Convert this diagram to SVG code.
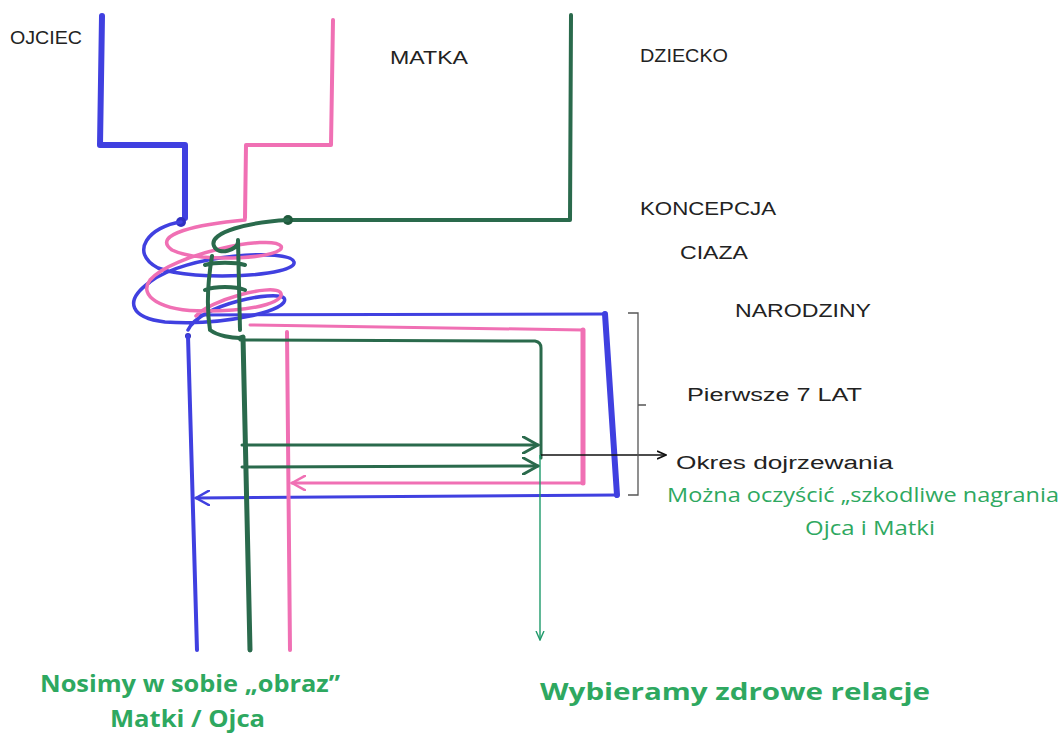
<svg xmlns="http://www.w3.org/2000/svg" width="1061" height="738" viewBox="0 0 1061 738">
<defs>
<style>
.lbl{font-family:"Liberation Sans",Arial,sans-serif;font-size:18px;fill:#222}
.g{font-family:"Open Sans","Liberation Sans",sans-serif;font-size:20px;fill:#2ea860}
.big{font-family:"Open Sans","Liberation Sans",sans-serif;font-weight:bold;font-size:24px;fill:#2ea860}
.blue{stroke:#4040e0;fill:none;stroke-linecap:round;stroke-linejoin:round}
.pink{stroke:#f070b4;fill:none;stroke-linecap:round;stroke-linejoin:round}
.dg{stroke:#2a6a4c;fill:none;stroke-linecap:round;stroke-linejoin:round}
</style>
<marker id="ahB" viewBox="0 0 10 10" refX="9" refY="5" markerWidth="16" markerHeight="16" markerUnits="userSpaceOnUse" orient="auto"><path d="M0,0 L9,5 L0,10" fill="none" stroke="#4040e0" stroke-width="1.6"/></marker>
<marker id="ahP" viewBox="0 0 10 10" refX="9" refY="5" markerWidth="16" markerHeight="16" markerUnits="userSpaceOnUse" orient="auto"><path d="M0,0 L9,5 L0,10" fill="none" stroke="#f070b4" stroke-width="1.6"/></marker>
<marker id="ahG" viewBox="0 0 10 10" refX="9" refY="5" markerWidth="18" markerHeight="18" markerUnits="userSpaceOnUse" orient="auto"><path d="M0,0 L9,5 L0,10" fill="none" stroke="#2a6a4c" stroke-width="1.6"/></marker>
<marker id="ahK" viewBox="0 0 10 10" refX="9" refY="5" markerWidth="10" markerHeight="10" markerUnits="userSpaceOnUse" orient="auto"><path d="M0,1 L9,5 L0,9" fill="none" stroke="#111" stroke-width="1.6"/></marker>
<marker id="ahL" viewBox="0 0 10 10" refX="9" refY="5" markerWidth="10" markerHeight="10" markerUnits="userSpaceOnUse" orient="auto"><path d="M0,1 L9,5 L0,9" fill="none" stroke="#1e9a6a" stroke-width="1.4"/></marker>
</defs>
<rect width="1061" height="738" fill="#fff"/>

<g id="ojciec">
<path class="blue" stroke-width="6" d="M102,16 L100,145 L185,145 L185,218"/>
<circle cx="181" cy="222" r="5" fill="#3030c0"/>
<path class="blue" stroke-width="3.5" d="M181,222 C150,226 128,252 158,268 C195,282 298,276 294,262 C290,248 185,254 150,282 C122,302 132,318 165,322 C225,326 292,310 284,298 C276,290 200,304 188,330"/>
<circle cx="188" cy="336" r="3" fill="#3030c0"/>
<path class="blue" stroke-width="4" d="M188,336 L197,650"/>
<path class="blue" stroke-width="3" d="M200,315 L605,314"/>
<path class="blue" stroke-width="6" d="M605,314 L617,495"/>
<path class="blue" stroke-width="3" d="M617,495 L196,498" marker-end="url(#ahB)"/>
</g>

<g id="matka">
<path class="pink" stroke-width="4" d="M333,20 L331,145 L246,145 L245,218"/>
<path class="pink" stroke-width="3.5" d="M245,220 C200,224 150,234 172,250 C200,264 288,258 281,246 C272,234 172,254 150,280 C138,296 160,311 205,311 C262,311 287,300 280,292 C270,284 210,300 196,316"/>
<path class="pink" stroke-width="3" d="M250,325 L583,330"/>
<path class="pink" stroke-width="5" d="M583,330 L583,483"/>
<path class="pink" stroke-width="3" d="M583,483 L292,483" marker-end="url(#ahP)"/>
<path class="pink" stroke-width="4" d="M287,332 L290,650"/>
</g>

<g id="dziecko">
<path class="dg" stroke-width="4" d="M571,15 L570,220 L292,220"/>
<circle cx="288" cy="220" r="5" fill="#1f5a3c"/>
<path class="dg" stroke-width="4" d="M288,220 C250,222 208,232 214,246 C218,256 238,250 238,242 M238,240 L240,330 M212,256 C208,280 206,305 210,330 M205,265 C215,262 235,262 245,265 M205,290 C215,286 235,286 245,290 M210,330 C218,336 232,338 240,338"/>
<path class="dg" stroke-width="5" d="M240,338 L243,337 L250,650"/>
<path class="dg" stroke-width="3" d="M240,340 L535,341 Q541,342 541,348 L541,458"/>
<path class="dg" stroke-width="3" d="M242,445 L538,445" marker-end="url(#ahG)"/>
<path class="dg" stroke-width="3" d="M242,467 L538,466" marker-end="url(#ahG)"/>
</g>

<g id="connectors">
<path stroke="#111" stroke-width="1.6" fill="none" d="M541,455 L666,455" marker-end="url(#ahK)"/>
<path stroke="#1e9a6a" stroke-width="1.4" fill="none" d="M540,455 L540,640" marker-end="url(#ahL)"/>
<path stroke="#555" stroke-width="1.3" fill="none" d="M628,313 L638,313 L638,495 L628,495 M638,405 L646,405"/>
</g>

<g id="labels">
<text class="lbl" x="10" y="44" textLength="72" lengthAdjust="spacingAndGlyphs">OJCIEC</text>
<text class="lbl" x="390" y="64" textLength="78" lengthAdjust="spacingAndGlyphs">MATKA</text>
<text class="lbl" x="640" y="62" textLength="88" lengthAdjust="spacingAndGlyphs">DZIECKO</text>
<text class="lbl" x="640" y="215" textLength="136" lengthAdjust="spacingAndGlyphs">KONCEPCJA</text>
<text class="lbl" x="680" y="259" textLength="68" lengthAdjust="spacingAndGlyphs">CIAZA</text>
<text class="lbl" x="735" y="317" textLength="136" lengthAdjust="spacingAndGlyphs">NARODZINY</text>
<text class="lbl" x="687" y="401" textLength="175" lengthAdjust="spacingAndGlyphs">Pierwsze 7 LAT</text>
<text class="lbl" x="676" y="469" textLength="217" lengthAdjust="spacingAndGlyphs">Okres dojrzewania</text>
<text class="g" x="667" y="502" textLength="392" lengthAdjust="spacingAndGlyphs">Można oczyścić „szkodliwe nagrania</text>
<text class="g" x="805" y="535" textLength="130" lengthAdjust="spacingAndGlyphs">Ojca i Matki</text>
<text class="big" x="40" y="692" textLength="300" lengthAdjust="spacingAndGlyphs">Nosimy w sobie „obraz”</text>
<text class="big" x="110" y="727" textLength="155" lengthAdjust="spacingAndGlyphs">Matki / Ojca</text>
<text class="big" x="540" y="700" textLength="390" lengthAdjust="spacingAndGlyphs">Wybieramy zdrowe relacje</text>
</g>
</svg>
